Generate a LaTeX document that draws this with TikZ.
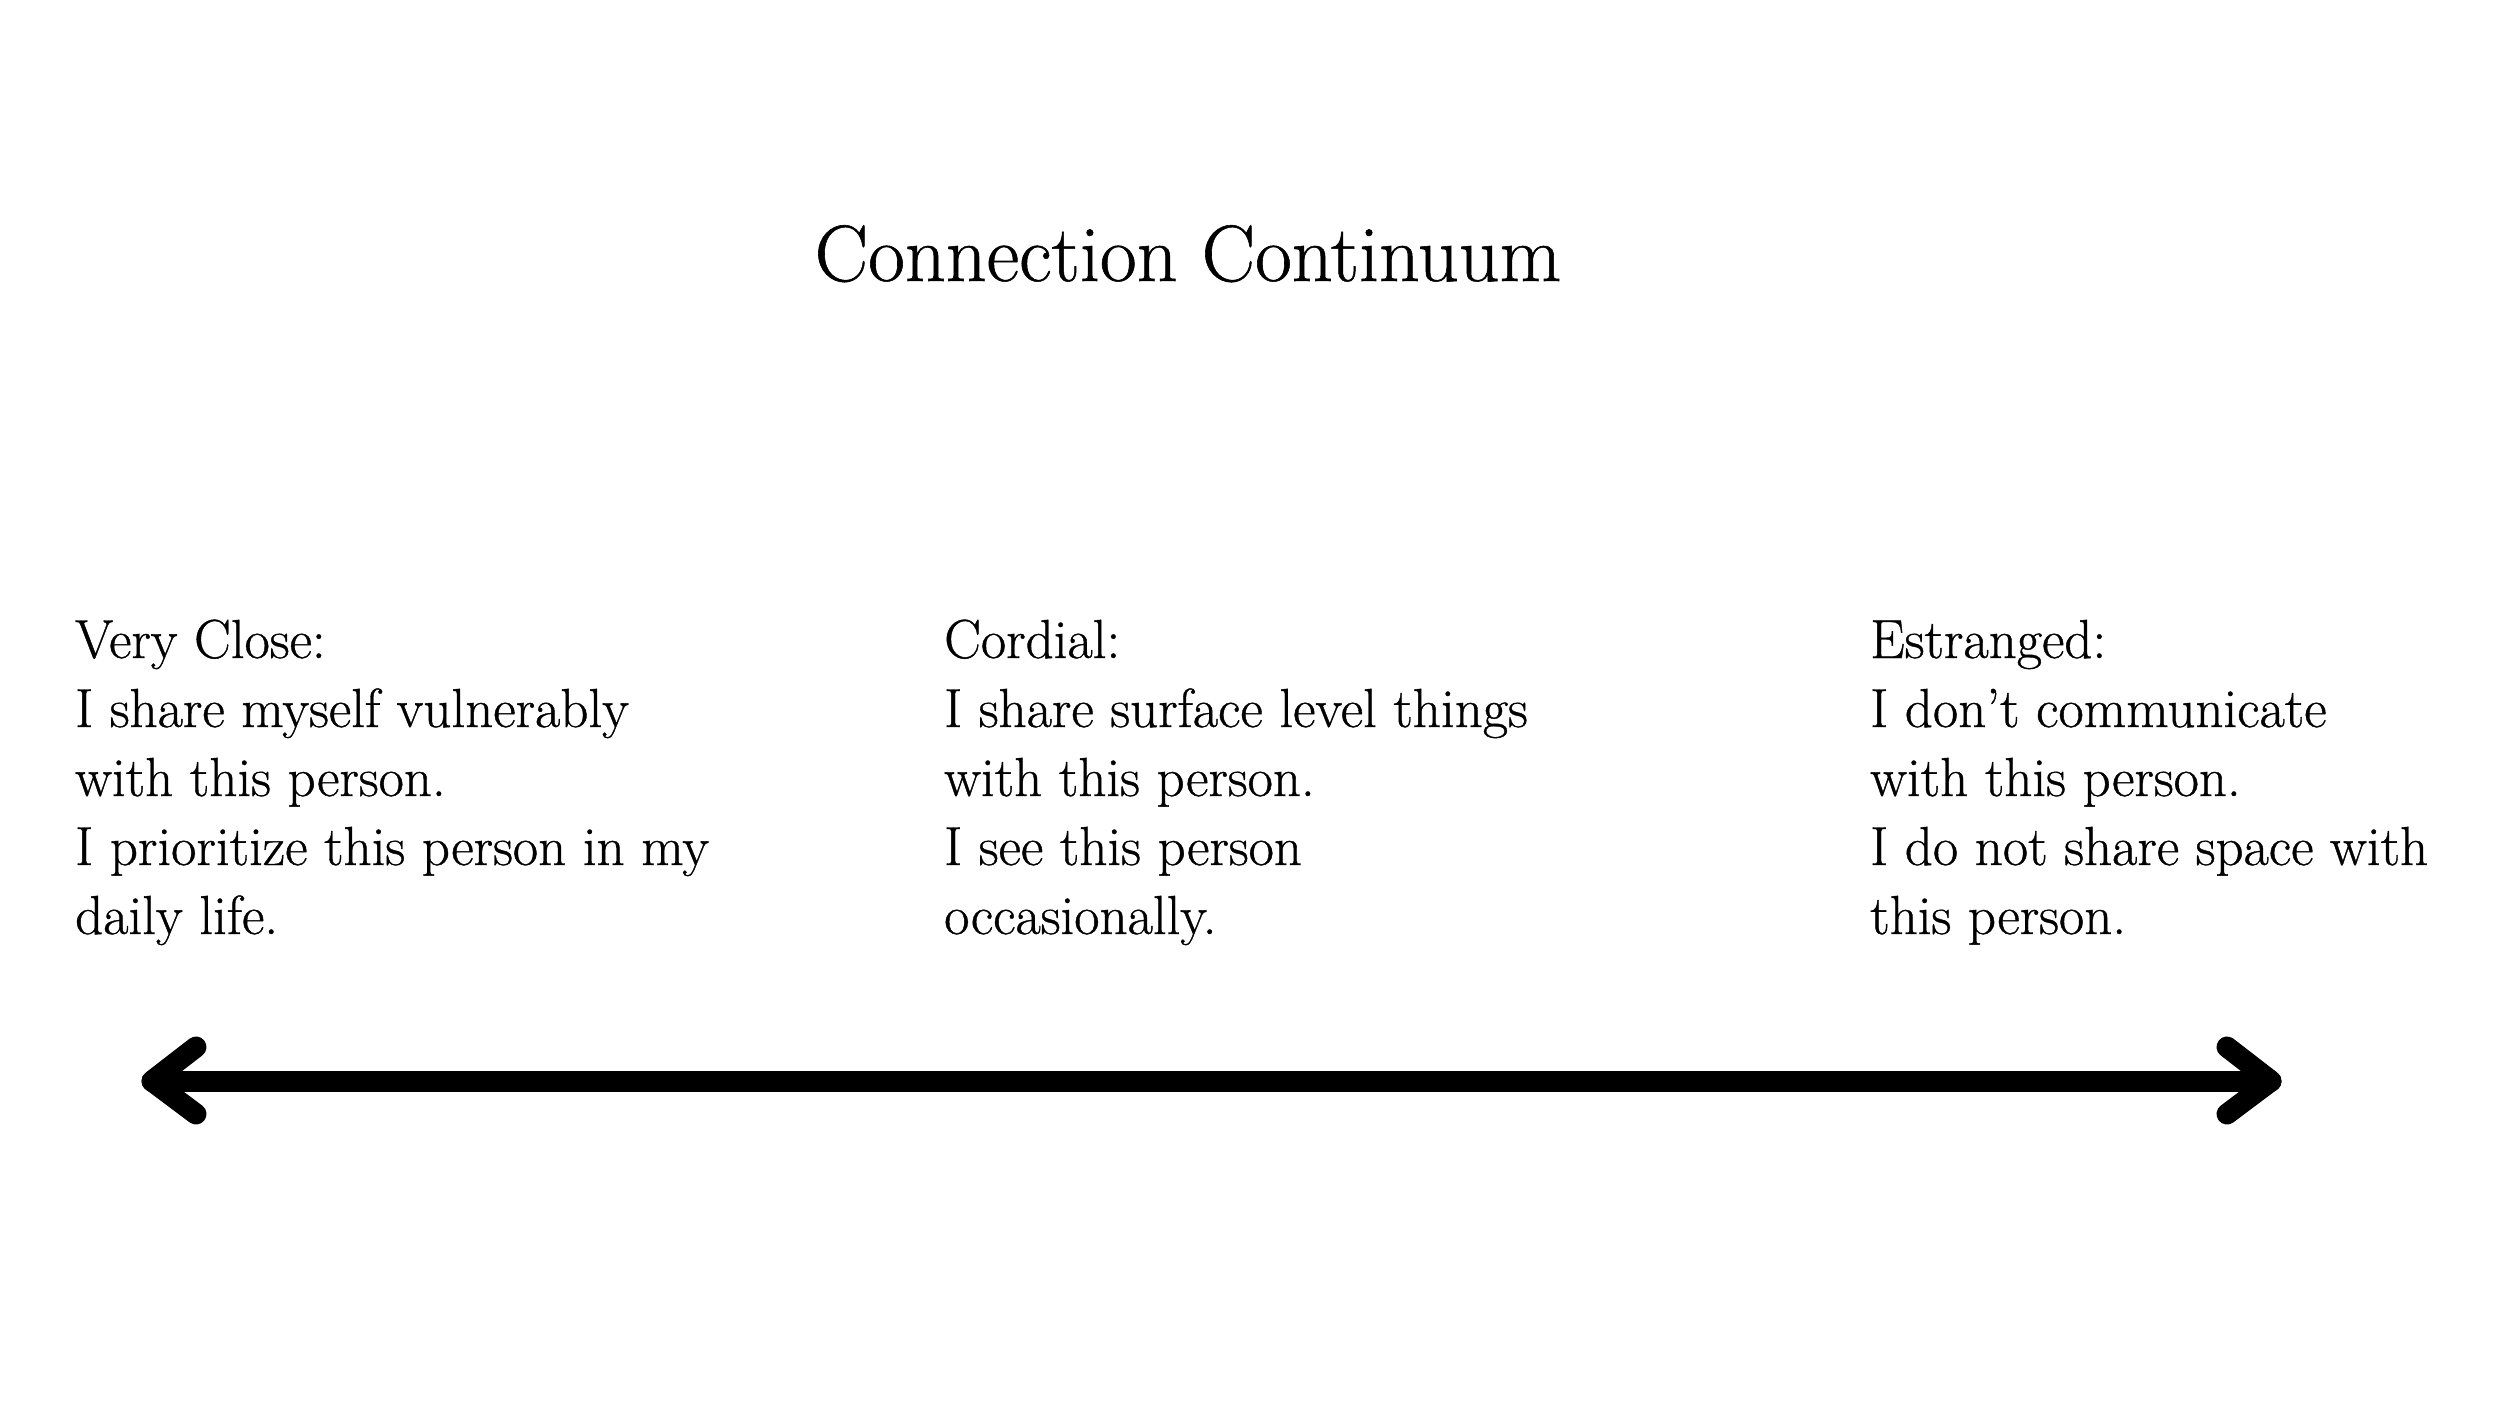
\documentclass[tikz,border=0pt]{standalone}
\usepackage{fontspec}
\setmainfont[FakeBold=0.7]{Latin Modern Roman}
\begin{document}
\begin{tikzpicture}[x=1pt,y=-1pt,
  lbl/.style={anchor=base west, inner sep=0pt, font=\fontsize{55}{69}\selectfont},
  ttl/.style={anchor=base, inner sep=0pt, font=\fontsize{80}{96}\selectfont},
  arr/.style={line width=21pt, line cap=round, line join=round}]
\useasboundingbox[fill=white] (0,0) rectangle (2500,1406);
\node[ttl] (title) at (1188,281) {Connection Continuum};
\node[lbl] (close) at (75,658) {\vtop{\baselineskip=69pt\lineskiplimit=-100pt
  \hbox{Very Close:}\hbox{I share myself vulnerably}\hbox{with this person.}\hbox{I prioritize this person in my}\hbox{daily life.}}};
\node[lbl] (cordial) at (944,658) {\vtop{\baselineskip=69pt\lineskiplimit=-100pt
  \hbox{Cordial:}\hbox{I share surface level things}\hbox{with this person.}\hbox{I see this person}\hbox{occasionally.}}};
\node[lbl] (estr) at (1870,658) {\vtop{\baselineskip=69pt\lineskiplimit=-100pt
  \hbox{Estranged:}\hbox{I don’t communicate}\hbox{with this person.}\hbox{I do not share space with}\hbox{this person.}}};
\coordinate (L) at (152,1081);
\coordinate (R) at (2271,1081);
\coordinate (Lt) at (196,1047);
\coordinate (Lb) at (196,1114);
\coordinate (Rt) at (2227,1047);
\coordinate (Rb) at (2227,1114);
\draw[arr] (L) -- (R);
\draw[arr] (Lt) -- (L) -- (Lb);
\draw[arr] (Rt) -- (R) -- (Rb);
\end{tikzpicture}
\end{document}
